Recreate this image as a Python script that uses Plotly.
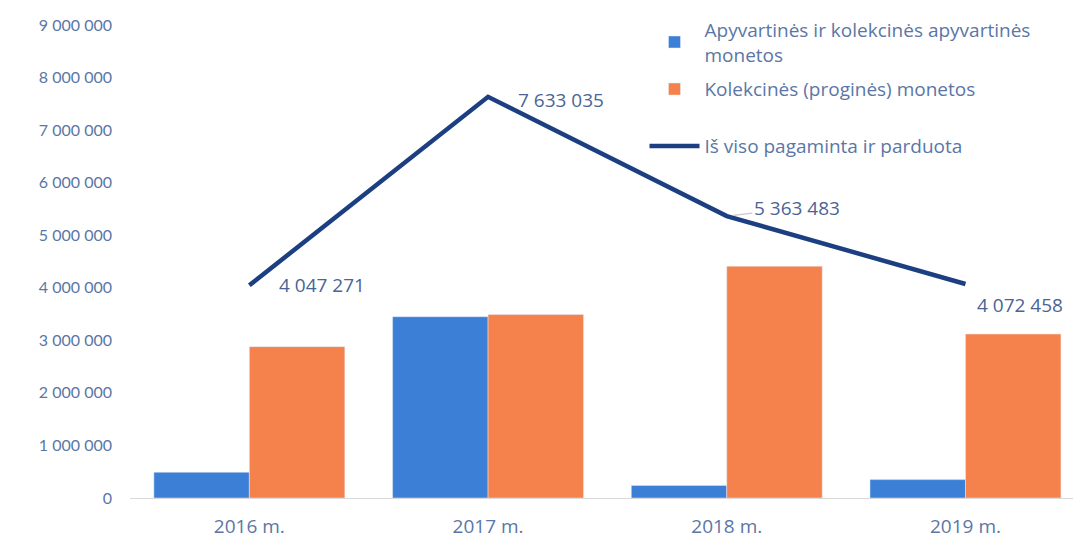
import plotly.graph_objects as go

metai = ["2016 m.", "2017 m.", "2018 m.", "2019 m."]
apyvartines = [490000, 3450000, 240000, 350000]
kolekcines = [2880000, 3490000, 4410000, 3120000]
is_viso = [4047271, 7633035, 5363483, 4072458]

y_ticks = list(range(0, 9000001, 1000000))
y_tick_text = [f"{v:,}".replace(",", " ") for v in y_ticks]

tekstas = "#5b76a6"
legendos_sriftas = dict(family="Open Sans", size=19, color=tekstas)

fig = go.Figure()
fig.add_trace(go.Bar(
    x=metai, y=apyvartines,
    name="Apyvartinės ir kolekcinės apyvartinės<br>monetos",
    marker_color="#3b80d6", legendgroup="a",
))
fig.add_trace(go.Bar(
    x=metai, y=kolekcines,
    name="Kolekcinės (proginės) monetos",
    marker_color="#f5824c", legendgroup="b",
))
fig.add_trace(go.Scatter(
    x=metai, y=is_viso, mode="lines",
    name="Iš viso pagaminta ir parduota",
    line=dict(color="#1c3f82", width=4.5), legend="legend2",
))

# duomenų etiketės prie linijos taškų (2018 m. - su pilka jungiamąja linija)
poslinkiai = [(73, 0), (73, -3), (70, 8), (55, -21)]
for i, (x, y, (dx, dy)) in enumerate(zip(metai, is_viso, poslinkiai)):
    tekst = f"{y:,}".replace(",", " ")
    sriftas = dict(family="Open Sans", size=19, color="#4a6496")
    if i == 2:
        fig.add_annotation(
            x=x, y=y, text=tekst, showarrow=True, ax=dx, ay=-dy,
            arrowhead=0, arrowwidth=1.2, arrowcolor="#c8c8c8", standoff=7,
            font=sriftas,
        )
    else:
        fig.add_annotation(
            x=x, y=y, text=tekst, showarrow=False, xshift=dx, yshift=dy,
            font=sriftas,
        )

fig.update_layout(
    width=1073, height=534,
    margin=dict(l=122, r=0, t=17, b=44),
    plot_bgcolor="white", paper_bgcolor="white",
    barmode="group", bargap=0.2, bargroupgap=0,
    font=dict(family="Lato", size=16, color=tekstas),
    showlegend=True,
    legend=dict(
        x=0.541, y=1.03, xanchor="left", yanchor="top",
        font=legendos_sriftas, traceorder="grouped", tracegroupgap=7,
        itemwidth=50, bgcolor="rgba(0,0,0,0)",
    ),
    legend2=dict(
        x=0.541, y=0.784, xanchor="left", yanchor="top",
        font=legendos_sriftas, itemwidth=50, bgcolor="rgba(0,0,0,0)",
    ),
)
fig.update_xaxes(
    range=[-0.5, 3.484], showgrid=False, automargin=False,
    showline=True, linecolor="#d9d9d9", linewidth=1,
    ticks="", ticklabelstandoff=11,
    tickfont=dict(family="Open Sans", size=19, color=tekstas),
)
fig.update_yaxes(
    range=[0, 9000000], tickvals=y_ticks, ticktext=y_tick_text,
    showgrid=False, zeroline=False, showline=False, ticks="",
    automargin=False, ticklabelstandoff=17,
    tickfont=dict(family="Lato", size=16, color=tekstas),
)

fig.write_html("out.html")
